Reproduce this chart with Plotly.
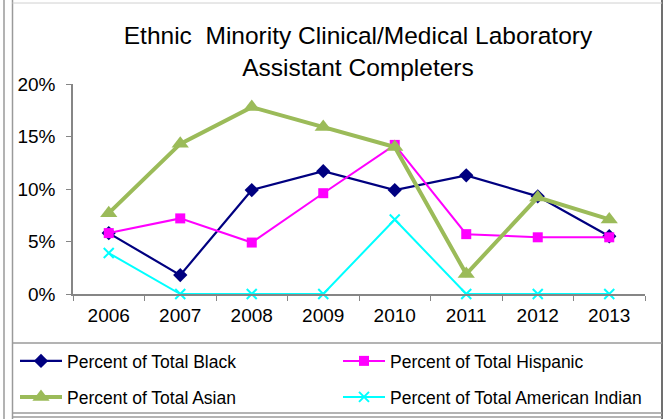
import plotly.graph_objects as go

years = ["2006", "2007", "2008", "2009", "2010", "2011", "2012", "2013"]
black = [5.8, 1.8, 9.9, 11.7, 9.9, 11.3, 9.3, 5.5]
hispanic = [5.8, 7.2, 4.9, 9.6, 14.2, 5.7, 5.4, 5.4]
asian = [7.7, 14.3, 17.8, 15.9, 14.0, 1.9, 9.2, 7.1]
amind = [3.9, 0, 0, 0, 7.1, 0, 0, 0]
yticks = [0, 5, 10, 15, 20]
yticklabels = ["0%", "5%", "10%", "15%", "20%"]

W, H = 667, 419
L, R, T, B = 73, 645, 84, 294

def px(x):
    return (x - L) / (R - L)

def py(y):
    return (B - y) / (B - T)

FONT = "Liberation Sans, Arial, sans-serif"

fig = go.Figure()
fig.add_trace(go.Scatter(x=years, y=black, name="Percent of Total Black", mode="lines+markers",
                         line=dict(color="#000080", width=2.2),
                         marker=dict(symbol="diamond", size=11, color="#000080"),
                         cliponaxis=False, legend="legend", showlegend=True))
fig.add_trace(go.Scatter(x=years, y=hispanic, name="Percent of Total Hispanic", mode="lines+markers",
                         line=dict(color="#FF00FF", width=2),
                         marker=dict(symbol="square", size=10, color="#FF00FF"),
                         cliponaxis=False, legend="legend2", showlegend=True))
fig.add_trace(go.Scatter(x=years, y=asian, name="Percent of Total Asian", mode="lines+markers",
                         line=dict(color="#9BBB59", width=4),
                         marker=dict(symbol="triangle-up", size=15, color="#9BBB59"),
                         cliponaxis=False, legend="legend3", showlegend=True))
fig.add_trace(go.Scatter(x=years, y=amind, name="Percent of Total American Indian", mode="lines+markers",
                         line=dict(color="#00FFFF", width=2),
                         marker=dict(symbol="x-thin", size=10, color="#00FFFF",
                                     line=dict(color="#00FFFF", width=2)),
                         cliponaxis=False, legend="legend4", showlegend=True))

line_dark = "#404040"
line_gray = "#9a9a9a"
shapes = [
    dict(type="line", x0=px(4), x1=px(4), y0=py(0), y1=py(419), line=dict(color=line_gray, width=1.5)),
    dict(type="line", x0=px(12.5), x1=px(12.5), y0=py(0), y1=py(419), line=dict(color=line_gray, width=1.5)),
    dict(type="line", x0=px(662), x1=px(662), y0=py(0), y1=py(419), line=dict(color=line_dark, width=1.5)),
    dict(type="line", x0=px(12.5), x1=px(662), y0=py(3), y1=py(3), line=dict(color="#d0d0d0", width=1)),
    dict(type="line", x0=px(12.5), x1=px(662), y0=py(343), y1=py(343), line=dict(color=line_gray, width=1.5)),
    dict(type="line", x0=px(12.5), x1=px(662), y0=py(413), y1=py(413), line=dict(color=line_gray, width=1.5)),
    dict(type="line", x0=px(12.5), x1=px(662), y0=py(417), y1=py(417), line=dict(color=line_gray, width=1.5)),
]
for s in shapes:
    s["xref"] = "paper"
    s["yref"] = "paper"
    s["layer"] = "above"

def leg(xpix, ypix):
    return dict(orientation="h", xanchor="left", yanchor="middle",
                xref="container", yref="container",
                x=xpix / W, y=1 - ypix / H, visible=True,
                font=dict(size=17.5, family=FONT, color="black"),
                bgcolor="rgba(0,0,0,0)", itemwidth=42, borderwidth=0)

fig.update_layout(
    width=W, height=H,
    showlegend=True,
    margin=dict(l=L, r=W - R, t=T, b=H - B, pad=0, autoexpand=False),
    paper_bgcolor="white", plot_bgcolor="white",
    font=dict(family=FONT, color="black", size=16),
    title=dict(text="Ethnic\u00a0 Minority Clinical/Medical Laboratory<br>Assistant Completers",
               x=358 / W, xanchor="center", y=1 - 44 / H, yanchor="top",
               font=dict(size=24.5, family=FONT, color="black")),
    xaxis=dict(type="category", range=[-0.5, 7.5], showgrid=False, showline=True,
               linecolor="#868686", linewidth=1.5, ticks="outside", ticklen=5,
               tickcolor="#868686", tickson="boundaries", tickfont=dict(size=19),
               ticklabelstandoff=3),
    yaxis=dict(range=[0, 20], tickvals=yticks, ticktext=yticklabels, showgrid=False, showline=True,
               linecolor="#868686", linewidth=1.5, ticks="outside", ticklen=5,
               tickcolor="#868686", tickfont=dict(size=19), zeroline=False,
               ticklabelstandoff=7),
    legend=leg(15, 361),
    legend2=leg(338, 361),
    legend3=leg(15, 397),
    legend4=leg(338, 397),
    shapes=shapes,
)

fig.write_html("out.html", config={"displayModeBar": False},
               post_script="document.body.style.margin='0px';")
